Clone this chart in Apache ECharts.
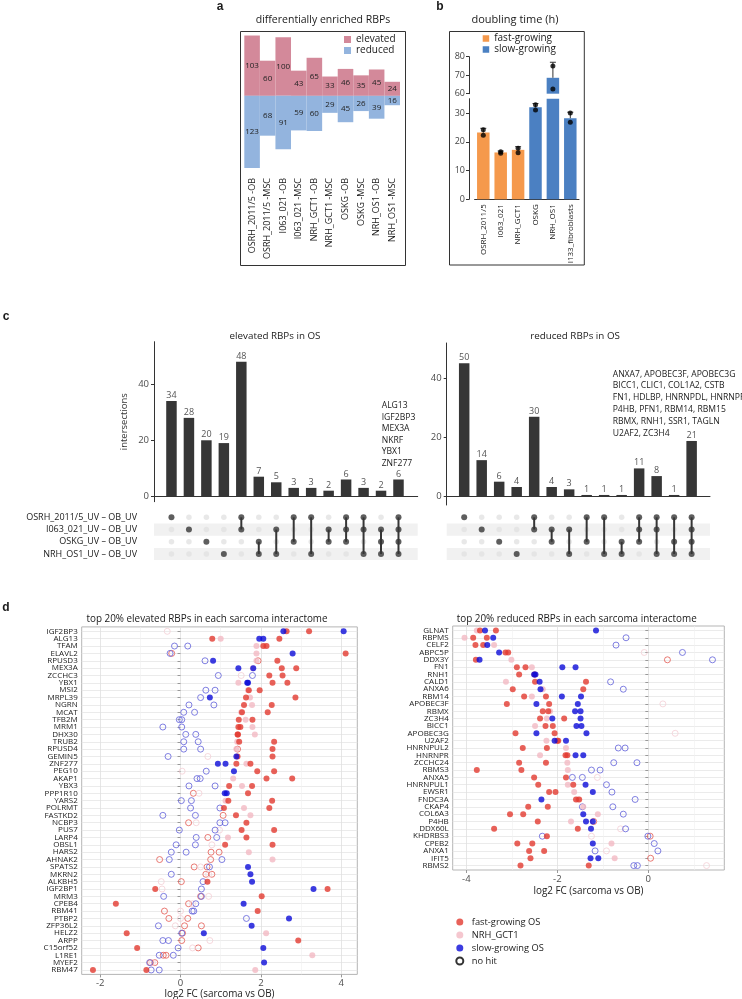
<!DOCTYPE html>
<html>
<head>
<meta charset="utf-8">
<script src="https://cdn.jsdelivr.net/npm/echarts@6/dist/echarts.min.js"></script>
<style>
  html, body { margin: 0; padding: 0; background: #fff; }
  #chart { width: 742px; height: 999px; }
</style>
</head>
<body>
<div id="chart"></div>
<script>
const FONT = '"Open Sans", "DejaVu Sans", sans-serif';

// ---- a: differentially enriched RBPs
const aSamples = ['OSRH_2011/5 -OB', 'OSRH_2011/5 -MSC', 'I063_021 -OB', 'I063_021 -MSC', 'NRH_GCT1 -OB',
  'NRH_GCT1 -MSC', 'OSKG -OB', 'OSKG -MSC', 'NRH_OS1 -OB', 'NRH_OS1 -MSC'];
const aElevated = [103, 60, 100, 43, 65, 33, 46, 35, 45, 24];
const aReduced = [123, 68, 91, 59, 60, 29, 45, 26, 39, 16];

// ---- b: doubling time (h)
const bLines = ['OSRH_2011/5', 'I063_021', 'NRH_GCT1', 'OSKG', 'NRH_OS1', 'I133_fibroblasts'];
const bGroup = ['fast', 'fast', 'fast', 'slow', 'slow', 'slow'];
const bMean = [23.2, 16.3, 17.2, 32.0, 68.6, 28.2];
const bUpper = [24.7, 16.8, 18.3, 33.3, 77.0, 30.3];
const bReps = [[22.3, 24.2], [16.0, 16.5], [16.2, 17.8], [31.1, 32.9], [62.5, 75.0], [26.8, 30.0]];
const bLowTicks = [0, 10, 20, 30];
const bHighTicks = [60, 70, 80];

// ---- c: upset plots
const cSets = ['OSRH_2011/5_UV – OB_UV', 'I063_021_UV – OB_UV', 'OSKG_UV – OB_UV', 'NRH_OS1_UV – OB_UV'];
const cElevHeights = [34, 28, 20, 19, 48, 7, 5, 3, 3, 2, 6, 3, 2, 6];
const cElevLabels = [34, 28, 20, 19, 48, 7, 5, 3, 3, 2, 6, 3, 2, 6];
const cElevMembers = [[0], [1], [2], [3], [0, 1], [2, 3], [1, 3], [0, 2], [0, 3], [1, 2], [0, 1, 2], [0, 1, 3], [1, 2, 3], [0, 1, 2, 3]];
const cRedHeights = [45.2, 12.4, 5.1, 3.3, 27.1, 3.3, 2.5, 0.6, 0.6, 0.6, 9.6, 7.0, 0.6, 18.9];
const cRedLabels = [50, 14, 6, 4, 30, 4, 3, 1, 1, 1, 11, 8, 1, 21];
const cRedMembers = [[0], [1], [2], [3], [0, 1], [1, 2], [1, 3], [0, 2], [0, 3], [2, 3], [0, 1, 2], [0, 1, 3], [0, 2, 3], [0, 1, 2, 3]];
const cCountTicks = [0, 20, 40];
const cElevGenes = ['ALG13', 'IGF2BP3', 'MEX3A', 'NKRF', 'YBX1', 'ZNF277'];
const cRedGenes = ['ANXA7, APOBEC3F, APOBEC3G', 'BICC1, CLIC1, COL1A2, CSTB', 'FN1, HDLBP, HNRNPDL, HNRNPR',
  'P4HB, PFN1, RBM14, RBM15', 'RBMX, RNH1, SSR1, TAGLN', 'U2AF2, ZC3H4'];

// ---- d: top 20% elevated RBPs (log2 FC sarcoma vs OB)
const elevGenes = ['IGF2BP3', 'ALG13', 'TFAM', 'ELAVL2', 'RPUSD3', 'MEX3A', 'ZCCHC3', 'YBX1', 'MSI2', 'MRPL39',
  'NGRN', 'MCAT', 'TFB2M', 'MRM1', 'DHX30', 'TRUB2', 'RPUSD4', 'GEMIN5', 'ZNF277', 'PEG10',
  'AKAP1', 'YBX3', 'PPP1R10', 'YARS2', 'POLRMT', 'FASTKD2', 'NCBP3', 'PUS7', 'LARP4', 'OBSL1',
  'HARS2', 'AHNAK2', 'SPATS2', 'MKRN2', 'ALKBH5', 'IGF2BP1', 'MRM3', 'CPEB4', 'RBM41', 'PTBP2',
  'ZFP36L2', 'HELZ2', 'ARPP', 'C15orf52', 'L1RE1', 'MYEF2', 'RBM47'];
const elevFast = [
  [2.64, 3.2], [0.79, 2.46], [2.06, 2.14], [-0.22, 4.11], [1.93, 2.41], [2.52, 2.88], [2.21, 2.54], [2.29, 2.66], [1.7, 1.97], [1.63, 2.86],
  [1.58, 2.27], [1.53, 2.17], [1.45, 1.79], [1.44, 1.49], [1.42, 1.43], [1.46, 2.33], [1.42, 2.29], [1.42, 2.29], [1.39, 1.74], [1.91, 2.33],
  [2.14, 2.78], [1.21, 1.78], [0.32, 1.68], [1.19, 2.28], [1.08, 2.21], [1.06, 1.38], [0.2, 1.64], [1.52, 2.33], [0.68, 1.64], [1.11, 2.29],
  [0.76, 0.96], [-0.52, 0.75], [0.34, 0.66], [0.63, 0.78], [0.02, 0.67], [-0.63, 3.66], [0.5, 2.02], [-1.61, 0.2], [-0.4, 1.92], [-0.29, 0.18],
  [0.1, 0.52], [-1.34, 0.05], [0.03, 2.93], [-1.08, 0.44], [-0.43, -0.36], [-0.75, -0.64], [-2.18, -0.85]];
const elevFastHit = [
  [1, 1], [1, 1], [1, 1], [0, 1], [0, 1], [1, 1], [1, 1], [1, 1], [1, 1], [1, 1],
  [1, 1], [1, 1], [1, 1], [1, 1], [1, 1], [1, 1], [0, 1], [1, 1], [1, 1], [1, 1],
  [1, 1], [1, 1], [0, 1], [1, 1], [1, 1], [0, 1], [0, 1], [1, 1], [0, 1], [1, 1],
  [0, 0], [0, 0], [0, 0], [0, 0], [0, 1], [1, 1], [0, 1], [1, 0], [0, 1], [0, 0],
  [0, 0], [1, 0], [0, 1], [1, 0], [0, 0], [0, 0], [1, 1]];
const elevGct = [-0.33, 1.0, 1.89, 1.89, 1.89, 1.8, 1.51, 1.44, 1.68, 1.73,
  1.78, 1.51, 1.62, 1.79, 1.85, 1.41, 1.39, 0.68, 1.64, 0.04,
  1.31, 1.53, 0.46, 1.12, 1.58, 1.74, 0.39, 0.97, 1.18, 0.78,
  1.7, 2.29, 0.5, 0.7, -0.48, -0.46, 0.7, 0.3, 0, 0,
  -0.13, 2.13, 0.73, 0.3, 3.28, -0.7, 1.86];
const elevGctHit = [0, 1, 1, 1, 1, 1, 0, 1, 1, 1,
  1, 1, 1, 1, 1, 1, 1, 0, 1, 0,
  1, 1, 0, 1, 1, 1, 0, 0, 1, 0,
  1, 1, 0, 0, 0, 0, 0, 0, 0, 0,
  0, 1, 0, 0, 1, 0, 1];
const elevSlow = [
  [2.56, 4.06], [1.96, 2.06], [-0.15, 0.18], [-0.26, 2.79], [0.61, 0.81], [1.44, 1.81], [0.94, 1.79], [1.66, 1.68], [0.63, 0.86], [0.5, 0.73],
  [0.21, 0.83], [0.08, 0.35], [-0.03, 0.03], [-0.44, 0.03], [0.13, 0.38], [0.08, 0.44], [0.08, 0.5], [-0.31, 1.39], [0.93, 1.12], [0.64, 1.33],
  [0.41, 0.49], [0.21, 0.86], [1.1, 1.15], [0.02, 0.27], [0.25, 0.98], [-0.44, 0.37], [0.98, 1.11], [-0.03, 0.86], [0.39, 0.9], [-0.11, 0.37],
  [-0.23, 0.14], [-0.28, 1.03], [0.72, 1.68], [-0.23, 1.74], [0.56, 1.78], [0.52, 3.31], [-0.42, 0.52], [0.38, 1.57], [0.29, 0.33], [1.64, 2.7],
  [-0.55, 1.77], [0.03, 0.58], [-0.44, -0.3], [-0.06, 2.06], [-0.53, -0.18], [-0.77, 2.08], [-0.73, -0.53]];
const elevSlowHit = [
  [1, 1], [1, 1], [0, 0], [0, 1], [0, 1], [1, 1], [0, 0], [1, 1], [0, 0], [0, 1],
  [0, 0], [0, 0], [0, 0], [0, 0], [0, 0], [0, 0], [0, 0], [0, 1], [1, 1], [0, 1],
  [0, 0], [0, 0], [1, 1], [0, 0], [0, 0], [0, 0], [0, 0], [0, 0], [0, 0], [0, 0],
  [0, 0], [0, 0], [0, 1], [0, 1], [0, 1], [0, 1], [0, 0], [0, 1], [0, 0], [0, 1],
  [0, 1], [0, 1], [0, 0], [0, 1], [0, 0], [0, 1], [0, 0]];

// ---- d: top 20% reduced RBPs
const redGenes = ['GLNAT', 'RBPMS', 'CELF2', 'ABPC5P', 'DDX3Y', 'FN1', 'RNH1', 'CALD1', 'ANXA6', 'RBM14',
  'APOBEC3F', 'RBMX', 'ZC3H4', 'BICC1', 'APOBEC3G', 'U2AF2', 'HNRNPUL2', 'HNRNPR', 'ZCCHC24', 'RBMS3',
  'ANXA5', 'HNRNPUL1', 'EWSR1', 'FNDC3A', 'CKAP4', 'COL6A3', 'P4HB', 'DDX60L', 'KHDRBS3', 'CPEB2',
  'ANXA1', 'IFIT5', 'RBMS2'];
const redFast = [
  [-3.7, -3.35], [-3.85, -3.55], [-3.8, -3.63], [-3.14, -3.08], [-3.79, 0.42], [-2.89, -2.7], [-2.84, -2.5], [-2.49, -1.37], [-2.98, -1.43], [-2.73, -2.25],
  [-3.11, -2.18], [-2.32, -2.2], [-2.38, -1.85], [-2.26, -2.1], [-2.92, -2.06], [-2.0, -1.98], [-2.76, -2.23], [-1.82, -1.78], [-2.84, -2.25], [-3.77, -2.79],
  [-2.51, -1.81], [-2.42, -1.65], [-2.18, -2.04], [-1.59, -1.52], [-2.64, -2.21], [-3.04, -2.75], [-2.43, -1.2], [-3.39, -1.55], [-2.23, 0.04], [-2.88, -2.55],
  [-2.62, -2.29], [-2.59, 0.05], [-2.81, -1.31]];
const redFastHit = [
  [1, 1], [1, 1], [1, 1], [1, 1], [1, 0], [1, 1], [1, 1], [1, 1], [1, 1], [1, 1],
  [1, 1], [1, 1], [1, 1], [1, 1], [1, 1], [1, 1], [1, 1], [1, 1], [1, 1], [1, 1],
  [1, 1], [1, 1], [1, 1], [1, 1], [1, 1], [1, 1], [1, 0], [1, 1], [1, 0], [1, 1],
  [1, 1], [1, 0], [1, 1]];
const redGct = [-3.77, -4.04, -3.39, -0.09, -3.01, -2.56, -2.5, -3.13, -2.32, -2.56,
  0.32, -2.16, -2.23, -2.49, 0.59, -2.24, -1.81, -2.38, -1.78, -1.77,
  -1.12, -1.77, -1.63, -1.55, -1.43, -1.11, -1.7, -0.61, -1.25, -0.81,
  -0.92, -0.74, 1.28];
const redGctHit = [1, 1, 1, 0, 1, 1, 1, 1, 1, 1,
  0, 1, 1, 1, 0, 1, 1, 1, 1, 1,
  0, 1, 1, 1, 1, 1, 1, 0, 0, 1,
  0, 1, 0];
const redSlow = [
  [-3.59, -1.15], [-3.41, -0.49], [-3.54, -0.71], [-3.28, 0.75], [-3.71, 1.41], [-1.89, -1.6], [-2.51, -2.48], [-2.39, -0.83], [-2.37, -0.55], [-1.9, -1.48],
  [-2.46, -1.55], [-1.61, -1.49], [-2.11, -1.49], [-1.58, -1.47], [-2.46, -1.36], [-2.06, -1.81], [-0.66, -0.51], [-1.6, -1.43], [-0.76, -0.25], [-1.25, -1.06],
  [-1.67, -1.45], [-1.38, -0.92], [-1.22, -0.8], [-2.35, -0.29], [-1.45, -0.78], [-1.43, -0.55], [-1.37, -1.22], [-1.26, -0.5], [-2.33, -0.01], [-1.22, 0.13],
  [-1.17, 0.21], [-1.27, -1.1], [-0.32, -0.24]];
const redSlowHit = [
  [1, 1], [1, 0], [1, 0], [1, 0], [1, 0], [1, 1], [1, 1], [1, 0], [1, 0], [1, 1],
  [1, 1], [1, 1], [1, 1], [1, 1], [1, 1], [1, 1], [0, 0], [1, 1], [0, 0], [0, 0],
  [0, 0], [1, 0], [1, 0], [1, 0], [0, 0], [1, 0], [1, 1], [1, 0], [0, 0], [1, 0],
  [0, 0], [1, 1], [0, 0]];
const elevTicks = [-2, 0, 2, 4];
const elevMinor = [-1, 1, 3];
const redTicks = [-4, -2, 0];
const redMinor = [-3, -1, 1];

const COL = {
  elevated: '#d3899a', reduced: '#93b4de',
  fastBar: '#f5994c', slowBar: '#4b80c2',
  fast: '#e2392f', gct: '#f2b9c3', slow: '#0b0bd8',
  fastOpen: '#e35a52', gctOpen: '#f4d0d6', slowOpen: '#6060da',
  upset: '#363636', upsetOff: '#e2e2e2'
};

const chart = echarts.init(document.getElementById('chart'));

// helpers
const errorBar = (params, api) => {
  const x = api.value(0);
  const p0 = api.coord([x, api.value(1)]);
  const p1 = api.coord([x, api.value(2)]);
  const st = { stroke: '#333', lineWidth: 1 };
  return {
    type: 'group', children: [
      { type: 'line', shape: { x1: p0[0], y1: p0[1], x2: p1[0], y2: p1[1] }, style: st },
      { type: 'line', shape: { x1: p1[0] - 3, y1: p1[1], x2: p1[0] + 3, y2: p1[1] }, style: st }
    ]
  };
};
const upsetLink = (params, api) => {
  const x = api.value(0);
  const p0 = api.coord([x, api.value(1)]);
  const p1 = api.coord([x, api.value(2)]);
  return { type: 'line', shape: { x1: p0[0], y1: p0[1], x2: p1[0], y2: p1[1] }, style: { stroke: COL.upset, lineWidth: 2 } };
};

function matrixSeries(members, xi) {
  const on = [], off = [], links = [];
  members.forEach((m, c) => {
    cSets.forEach((s, r) => (m.includes(r) ? on : off).push([c + 1, r]));
    if (m.length > 1) links.push([c + 1, Math.min(...m), Math.max(...m)]);
  });
  const base = { xAxisIndex: xi, yAxisIndex: xi, silent: true };
  return [
    Object.assign({ type: 'scatter', data: off, symbolSize: 5.5, itemStyle: { color: COL.upsetOff }, z: 2 }, base),
    Object.assign({ type: 'custom', data: links, renderItem: upsetLink, z: 3 }, base),
    Object.assign({ type: 'scatter', data: on, symbolSize: 6, itemStyle: { color: COL.upset }, z: 4 }, base)
  ];
}

function upsetBars(heights, labels, xi) {
  return {
    type: 'bar', xAxisIndex: xi, yAxisIndex: xi, silent: true,
    data: heights.map((v, i) => [i + 1, v]), barWidth: 10.5,
    itemStyle: { color: COL.upset },
    label: { show: true, position: 'top', distance: 1, fontSize: 9, color: '#555', fontFamily: FONT,
      formatter: p => String(labels[p.dataIndex]) }
  };
}

function dots(name, xi, vals, hits, color, filled) {
  const data = [];
  vals.forEach((row, i) => {
    const v = Array.isArray(row) ? row : [row];
    const h = Array.isArray(hits[i]) ? hits[i] : [hits[i]];
    v.forEach((x, j) => { if (!!h[j] === filled) data.push([x, i + 1]); });
  });
  return {
    type: 'scatter', name, xAxisIndex: xi, yAxisIndex: xi === 7 ? 7 : 8, data, symbolSize: 6, z: filled ? 5 : 4,
    itemStyle: filled ? { color } : { color: 'rgba(255,255,255,0)', borderColor: color, borderWidth: 1 }
  };
}

// gene axes: labels split over two stacked axes (odd / even rows) so that none is dropped
function geneYAxis(grid, genes, parity, main) {
  const idx = genes.map((g, i) => i + 1);
  const mine = idx.filter(v => v % 2 === parity);
  return {
    gridIndex: grid, type: 'value', inverse: true, min: 0.4, max: genes.length + 0.6, position: 'left',
    axisLine: { show: false },
    axisTick: { show: main, length: 3, customValues: idx, lineStyle: { color: '#999' } },
    axisLabel: { customValues: mine, formatter: v => genes[Math.round(v) - 1] || '', fontSize: 8, color: '#1a1a1a',
      margin: 4, fontFamily: FONT, showMinLabel: true, showMaxLabel: true },
    splitLine: { show: main, lineStyle: { color: '#e6e6e6', width: 0.8 } }
  };
}
function fcXAxis(grid, min, max, ticks, nameGap) {
  return {
    gridIndex: grid, type: 'value', min, max, position: 'bottom',
    axisLine: { show: false },
    axisTick: { show: true, length: 3, customValues: ticks, lineStyle: { color: '#999' } },
    axisLabel: { customValues: ticks, fontSize: 9.5, color: '#4d4d4d', margin: 4, fontFamily: FONT,
      showMinLabel: true, showMaxLabel: true },
    splitLine: { show: true, lineStyle: { color: '#e0e0e0', width: 0.8 } },
    name: 'log2 FC (sarcoma vs OB)', nameLocation: 'middle', nameGap,
    nameTextStyle: { fontSize: 9.9, color: '#222', fontFamily: FONT }
  };
}
function minorXAxis(grid, min, max, ticks) {
  return {
    gridIndex: grid, type: 'value', min, max, position: 'bottom',
    axisLine: { show: false }, axisLabel: { show: false },
    axisTick: { show: false, customValues: ticks },
    splitLine: { show: true, lineStyle: { color: '#f0f0f0', width: 0.6 } }
  };
}

const txt = (text, x, y, size, align, extra) => ({
  type: 'text', x, y, silent: true,
  style: Object.assign({ text, fill: '#1a1a1a', font: size + 'px ' + FONT,
    align, textAlign: align, verticalAlign: 'middle', textVerticalAlign: 'middle' }, extra || {})
});

const grids = [
  { left: 244.3, top: 32, width: 155.7, height: 140 },          // 0 a
  { left: 474.6, top: 98.7, width: 104.4, height: 100.6 },      // 1 b low
  { left: 474.6, top: 56.7, width: 104.4, height: 37 },         // 2 b high
  { left: 154, top: 341.7, width: 263.7, height: 160 },         // 3 c left bars
  { left: 154, top: 511.2, width: 263.7, height: 48.9 },        // 4 c left matrix
  { left: 446.7, top: 343, width: 263.3, height: 162 },         // 5 c right bars
  { left: 446.7, top: 511.2, width: 263.3, height: 48.9 },      // 6 c right matrix
  { left: 81.7, top: 626.9, width: 275.6, height: 347.5, show: true, borderColor: '#b5b5b5', borderWidth: 1 }, // 7
  { left: 452.7, top: 626, width: 271.6, height: 244, show: true, borderColor: '#b5b5b5', borderWidth: 1 }     // 8
].map(g => Object.assign({ outerBoundsMode: 'none', containLabel: false }, g));

const axisDark = { show: true, lineStyle: { color: '#333', width: 1 } };

const xAxes = [
  { gridIndex: 0, type: 'category', data: aSamples, axisLine: { show: false, onZero: false }, axisTick: { show: false },
    axisLabel: { rotate: 90, interval: 0, fontSize: 9, color: '#1a1a1a', margin: 6, fontFamily: FONT } },
  { gridIndex: 1, type: 'category', data: bLines, axisLine: { show: true, onZero: false, lineStyle: { color: '#333' } },
    axisTick: { show: false }, axisLabel: { rotate: 90, interval: 0, fontSize: 8, color: '#1a1a1a', margin: 5, fontFamily: FONT } },
  { gridIndex: 2, type: 'category', data: bLines, show: false },
  { gridIndex: 3, type: 'value', min: 0, max: 15.1, axisLine: { show: true, onZero: true, lineStyle: { color: '#333' } },
    axisTick: { show: false }, axisLabel: { show: false }, splitLine: { show: false } },
  { gridIndex: 4, type: 'value', min: 0, max: 15.1, show: false, splitLine: { show: false } },
  { gridIndex: 5, type: 'value', min: 0, max: 15.05, axisLine: { show: true, onZero: true, lineStyle: { color: '#333' } },
    axisTick: { show: false }, axisLabel: { show: false }, splitLine: { show: false } },
  { gridIndex: 6, type: 'value', min: 0, max: 15.05, show: false, splitLine: { show: false } },
  fcXAxis(7, -2.46, 4.4, elevTicks, 15),
  minorXAxis(7, -2.46, 4.4, elevMinor),
  fcXAxis(8, -4.3, 1.67, redTicks, 16),
  minorXAxis(8, -4.3, 1.67, redMinor)
];

const countAxis = (grid, min, max, name) => ({
  gridIndex: grid, type: 'value', min, max,
  axisLine: axisDark,
  axisTick: { show: true, length: 3, customValues: cCountTicks, lineStyle: { color: '#333' } },
  axisLabel: { customValues: cCountTicks, fontSize: 9.5, color: '#4d4d4d', margin: 5, fontFamily: FONT },
  splitLine: { show: false },
  name, nameLocation: 'middle', nameRotate: 90, nameGap: 25,
  nameTextStyle: { fontSize: 9.5, color: '#333', fontFamily: FONT }
});
const matrixAxis = (grid, showLabels) => ({
  gridIndex: grid, type: 'category', data: cSets, inverse: true,
  axisLine: { show: false }, axisTick: { show: false },
  axisLabel: { show: showLabels, interval: 0, fontSize: 9, lineHeight: 10, color: '#1a1a1a', margin: 17, fontFamily: FONT },
  splitLine: { show: false },
  splitArea: { show: true, interval: 0, areaStyle: { color: ['rgba(0,0,0,0)', '#f1f1f1'] } }
});
const hoursAxis = (grid, min, max, ticks) => ({
  gridIndex: grid, type: 'value', min, max, offset: 5.6,
  axisLine: axisDark,
  axisTick: { show: true, length: 3, customValues: ticks, lineStyle: { color: '#333' } },
  axisLabel: { customValues: ticks, fontSize: 9, color: '#444', margin: 4, fontFamily: FONT },
  splitLine: { show: false }
});

const yAxes = [
  { gridIndex: 0, type: 'value', min: -130, max: 109, show: false, splitLine: { show: false } },
  hoursAxis(1, 0, 35, bLowTicks),
  hoursAxis(2, 60, 80, bHighTicks),
  countAxis(3, -1.93, 55.2, 'intersections'),
  matrixAxis(4, true),
  countAxis(5, -2.8, 52.1, ''),
  matrixAxis(6, false),
  geneYAxis(7, elevGenes, 1, true),
  geneYAxis(8, redGenes, 1, true),
  geneYAxis(7, elevGenes, 0, false),
  geneYAxis(8, redGenes, 0, false)
];

const byGroup = (g, lim) => bMean.map((v, i) => (bGroup[i] === g && lim(v) ? v : '-'));
const lowRange = v => v <= 35;
const highRange = v => v >= 60;
const repPoints = lim => {
  const out = [];
  bReps.forEach((r, i) => r.forEach(v => { if (lim(v)) out.push([i, v]); }));
  return out;
};
const errData = lim => bMean.map((m, i) => [i, m, bUpper[i]]).filter(d => lim(d[1]) && lim(d[2]));

const series = [
  // a
  { type: 'bar', name: 'elevated', xAxisIndex: 0, yAxisIndex: 0, data: aElevated, barCategoryGap: '0%', barGap: '-100%',
    itemStyle: { color: COL.elevated }, silent: true,
    label: { show: true, position: 'inside', fontSize: 8, color: '#222', fontFamily: FONT } },
  { type: 'bar', name: 'reduced', xAxisIndex: 0, yAxisIndex: 0, data: aReduced.map(v => -v), barCategoryGap: '0%', barGap: '-100%',
    itemStyle: { color: COL.reduced }, silent: true,
    label: { show: true, position: 'inside', fontSize: 8, color: '#222', fontFamily: FONT, formatter: p => String(-p.value) } },
  // b
  { type: 'bar', name: 'fast-growing', xAxisIndex: 1, yAxisIndex: 1, data: byGroup('fast', () => true), barWidth: 12.5, barGap: '-100%',
    itemStyle: { color: COL.fastBar }, silent: true },
  { type: 'bar', name: 'slow-growing', xAxisIndex: 1, yAxisIndex: 1, data: byGroup('slow', () => true), barWidth: 12.5, barGap: '-100%',
    itemStyle: { color: COL.slowBar }, silent: true },
  { type: 'bar', name: 'slow-growing', xAxisIndex: 2, yAxisIndex: 2, data: byGroup('slow', highRange), barWidth: 12.5, barGap: '-100%',
    itemStyle: { color: COL.slowBar }, silent: true },
  { type: 'custom', xAxisIndex: 1, yAxisIndex: 1, data: errData(lowRange), renderItem: errorBar, z: 3, silent: true },
  { type: 'custom', xAxisIndex: 2, yAxisIndex: 2, data: errData(highRange), renderItem: errorBar, z: 3, silent: true },
  { type: 'scatter', xAxisIndex: 1, yAxisIndex: 1, data: repPoints(lowRange), symbolSize: 5, itemStyle: { color: '#000' }, z: 4, silent: true },
  { type: 'scatter', xAxisIndex: 2, yAxisIndex: 2, data: repPoints(highRange), symbolSize: 5, itemStyle: { color: '#000' }, z: 4, silent: true },
  // c
  upsetBars(cElevHeights, cElevLabels, 3),
  ...matrixSeries(cElevMembers, 4),
  upsetBars(cRedHeights, cRedLabels, 5),
  ...matrixSeries(cRedMembers, 6),
  // d
  dots('fast-growing OS (no hit)', 7, elevFast, elevFastHit, COL.fastOpen, false),
  dots('NRH_GCT1 (no hit)', 7, elevGct, elevGctHit, COL.gctOpen, false),
  dots('slow-growing OS (no hit)', 7, elevSlow, elevSlowHit, COL.slowOpen, false),
  dots('NRH_GCT1', 7, elevGct, elevGctHit, COL.gct, true),
  dots('fast-growing OS', 7, elevFast, elevFastHit, COL.fast, true),
  dots('slow-growing OS', 7, elevSlow, elevSlowHit, COL.slow, true),
  dots('fast-growing OS (no hit)', 9, redFast, redFastHit, COL.fastOpen, false),
  dots('NRH_GCT1 (no hit)', 9, redGct, redGctHit, COL.gctOpen, false),
  dots('slow-growing OS (no hit)', 9, redSlow, redSlowHit, COL.slowOpen, false),
  dots('NRH_GCT1', 9, redGct, redGctHit, COL.gct, true),
  dots('fast-growing OS', 9, redFast, redFastHit, COL.fast, true),
  dots('slow-growing OS', 9, redSlow, redSlowHit, COL.slow, true),
  { type: 'scatter', name: 'no hit', xAxisIndex: 7, yAxisIndex: 7, data: [],
    itemStyle: { color: 'rgba(255,255,255,0)', borderColor: '#000', borderWidth: 1.2 } }
];

const legends = [
  { data: ['elevated', 'reduced'], left: 344, top: 34.5, orient: 'vertical', icon: 'rect', itemWidth: 7, itemHeight: 7,
    itemGap: 1, padding: 0, selectedMode: false, textStyle: { fontSize: 10, color: '#1a1a1a', fontFamily: FONT } },
  { data: ['fast-growing', 'slow-growing'], left: 482.7, top: 33.5, orient: 'vertical', icon: 'rect', itemWidth: 6.5, itemHeight: 6.5,
    itemGap: 1, padding: 0, selectedMode: false, textStyle: { fontSize: 10, color: '#1a1a1a', fontFamily: FONT } },
  { data: ['fast-growing OS', 'NRH_GCT1', 'slow-growing OS', 'no hit'], left: 455.3, top: 917.5, orient: 'vertical', icon: 'circle',
    itemWidth: 14, itemHeight: 7, itemGap: 4, padding: 0, selectedMode: false,
    textStyle: { fontSize: 9.3, color: '#1a1a1a', fontFamily: FONT } }
];

const graphics = [
  txt('a', 220, 7, 15, 'center', { fontWeight: 600 }),
  txt('b', 440, 7, 15, 'center', { fontWeight: 600 }),
  txt('c', 6, 317, 15, 'center', { fontWeight: 600 }),
  txt('d', 6, 608, 15, 'center', { fontWeight: 600 }),
  txt('differentially enriched RBPs', 323, 20, 10.5, 'center'),
  txt('doubling time (h)', 515, 20, 11, 'center'),
  txt('elevated RBPs in OS', 275, 336.7, 9.8, 'center'),
  txt('reduced RBPs in OS', 575, 336, 9.8, 'center'),
  txt('top 20% elevated RBPs in each sarcoma interactome', 207, 619, 9.9, 'center'),
  txt('top 20% reduced RBPs in each sarcoma interactome', 576.7, 619, 9.9, 'center'),
  txt(cElevGenes.join('\n'), 381.7, 434.5, 8.6, 'left', { lineHeight: 11.5 }),
  txt(cRedGenes.join('\n'), 612.7, 403.7, 8.6, 'left', { lineHeight: 11.85 }),
  { type: 'rect', silent: true, shape: { x: 240.5, y: 31.5, width: 165, height: 234 }, style: { fill: 'none', stroke: '#333', lineWidth: 1 } },
  { type: 'rect', silent: true, shape: { x: 449.5, y: 31.5, width: 134.8, height: 233.5 }, style: { fill: 'none', stroke: '#333', lineWidth: 1 } }
];

chart.setOption({
  animation: false,
  backgroundColor: '#fff',
  textStyle: { fontFamily: FONT },
  grid: grids,
  xAxis: xAxes,
  yAxis: yAxes,
  legend: legends,
  graphic: graphics,
  series
});
</script>
</body>
</html>
